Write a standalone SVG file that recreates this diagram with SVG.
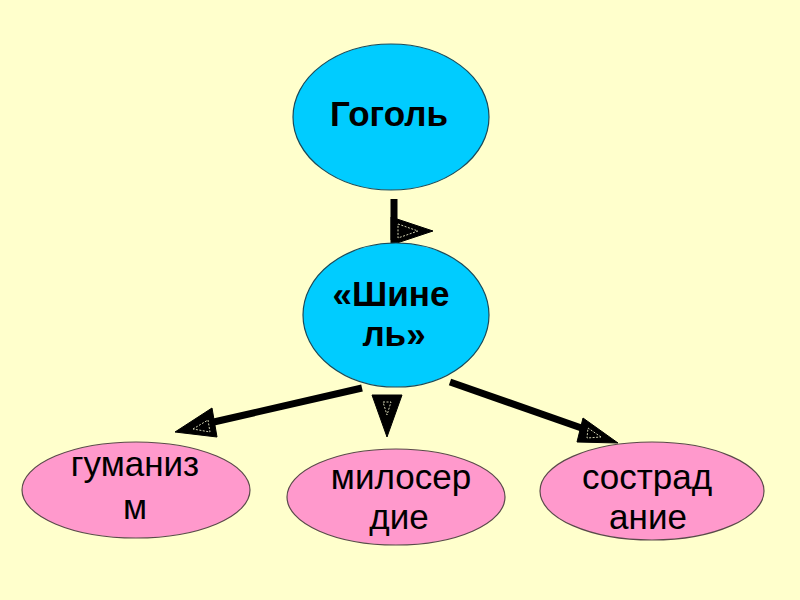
<svg xmlns="http://www.w3.org/2000/svg" width="800" height="600" viewBox="0 0 800 600">
<style>
.blue{fill:#00CCFF;stroke:#1a4a5a;stroke-width:1.2}
.pink{fill:#FF99CC;stroke:#5a4a4a;stroke-width:1.2}
.tb{font-family:"Liberation Sans",Arial,sans-serif;font-weight:bold;font-size:35px;fill:#000;text-anchor:middle}
.tr{font-family:"Liberation Sans",Arial,sans-serif;font-size:35px;fill:#000;text-anchor:middle}
.line{stroke:#000;stroke-width:7;fill:none}
.head{fill:#000;stroke:#000;stroke-width:1}
.inner{fill:none;stroke:#cfcfb0;stroke-width:1;stroke-dasharray:2 1.5}
</style>
<rect width="800" height="600" fill="#FFFFCC"/>
<g id="connectors">
<line class="line" x1="394" y1="199" x2="394" y2="240"/>
<polygon class="head" points="391,217 433,231 391,245"/>
<polygon class="inner" points="398,224 418,231 398,238"/>
<line class="line" x1="362" y1="388" x2="205" y2="424"/>
<polygon class="head" points="175,432 212,408 217,437"/>
<polygon class="inner" points="193,429 208,420 210,432"/>
<polygon class="head" points="372,395 402,395 387,437"/>
<polygon class="inner" points="383,402 391,402 387,415"/>
<line class="line" x1="450" y1="382" x2="590" y2="431"/>
<polygon class="head" points="618,443 583,418 577,442"/>
<polygon class="inner" points="601,437 588,428 587,438"/>
</g>
<g id="gogol">
<ellipse class="blue" cx="391" cy="117" rx="98" ry="73"/>
<text class="tb" x="389" y="126">Гоголь</text>
</g>
<g id="shinel">
<ellipse class="blue" cx="396" cy="315" rx="93" ry="72"/>
<text class="tb" x="391" y="306">«Шине</text>
<text class="tb" x="394" y="346">ль»</text>
</g>
<g id="gumanizm">
<ellipse class="pink" cx="136" cy="490" rx="114" ry="48"/>
<text class="tr" x="135" y="476">гуманиз</text>
<text class="tr" x="135" y="519">м</text>
</g>
<g id="miloserdie">
<ellipse class="pink" cx="396" cy="497" rx="109" ry="48"/>
<text class="tr" x="401" y="489">милосер</text>
<text class="tr" x="399" y="529">дие</text>
</g>
<g id="sostradanie">
<ellipse class="pink" cx="652" cy="491" rx="112" ry="49"/>
<text class="tr" x="647" y="489">сострад</text>
<text class="tr" x="648" y="529">ание</text>
</g>
</svg>
